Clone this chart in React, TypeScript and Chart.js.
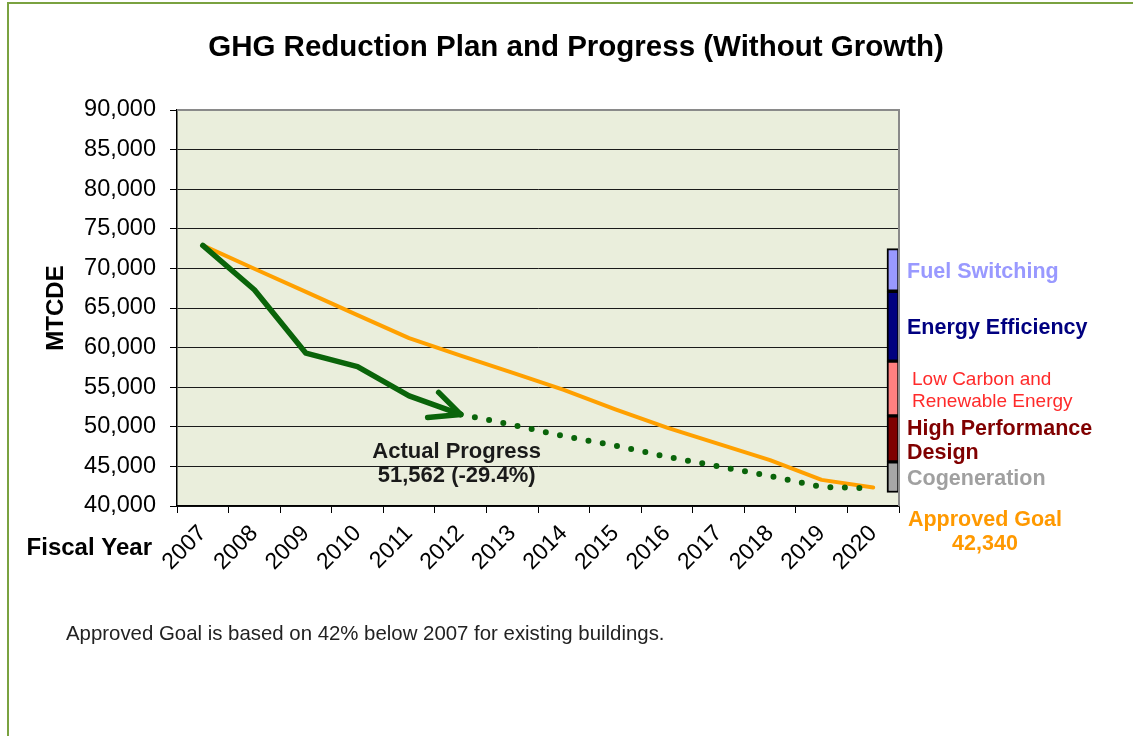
import React, { useEffect, useRef } from "react";
import { Chart, registerables } from "chart.js";

Chart.register(...registerables);

// ---------- data ----------
const years = ["2007", "2008", "2009", "2010", "2011", "2012", "2013", "2014", "2015", "2016", "2017", "2018", "2019", "2020"];
const planValues = [72900, 69950, 67030, 64100, 61200, 59000, 56850, 54650, 52200, 49900, 47850, 45800, 43300, 42340];
const actualValues = [72900, 67300, 59300, 57600, 53900, 51562, null, null, null, null, null, null, null, null];
const projectionValues = [null, null, null, null, null, 51562, 50260, 48820, 47620, 46220, 45000, 43780, 42390, 42250];

const yMin = 40000;
const yMax = 90000;
const yStep = 5000;

const strategyNames = ["Cogeneration", "High Performance Design", "Low Carbon and Renewable Energy", "Energy Efficiency", "Fuel Switching"];
const strategyLow = [41700, 45580, 51370, 58300, 67120];
const strategyHigh = [45580, 51370, 58300, 67120, 72500];
const strategyLabelLines = [["Cogeneration"], ["High Performance", "Design"], ["Low Carbon and", "Renewable Energy"], ["Energy Efficiency"], ["Fuel Switching"]];

const goalValue = 42340;
const actualLatest = 51562;
const actualChangePct = -29.4;

const chartTitle = "GHG Reduction Plan and Progress (Without Growth)";
const yTitle = "MTCDE";
const xTitle = "Fiscal Year";
const footnote = "Approved Goal is based on 42% below 2007 for existing buildings.";

// ---------- styles ----------
const FONT = "'Liberation Sans', Arial, sans-serif";
const strategyFill = ["#A6A6A6", "#7F0000", "#FF8080", "#000080", "#9999FF"];
const strategyText = ["#A0A0A0", "#800000", "#FF2A2A", "#000080", "#9999FF"];
const strategyBold = [true, true, false, true, true];
const GREEN = "#0A640A";
const ORANGE = "#FFA000";
const SLOT_COUNT = 60;
const barSlots = Array.from({ length: SLOT_COUNT }, (_, i) => "s" + i);

const fmt = (v: number) => v.toLocaleString("en-US");

export default function App() {
  const ref = useRef<HTMLCanvasElement | null>(null);

  useEffect(() => {
    document.body.style.margin = "0";
    document.body.style.overflow = "hidden";
    const canvas = ref.current;
    if (!canvas) return;

    const barDatasets = strategyNames.map((name, i) => ({
      type: "bar" as const,
      label: name,
      xAxisID: "x2",
      yAxisID: "y",
      data: barSlots.map((_, j) => (j === SLOT_COUNT - 1 ? [strategyLow[i], strategyHigh[i]] : null)),
      backgroundColor: strategyFill[i],
      borderColor: "#000",
      borderWidth: 2,
      borderSkipped: false,
      grouped: false,
      barPercentage: 1,
      categoryPercentage: 1,
      order: 5,
    }));

    const decorations = {
      id: "decorations",
      beforeDraw(chart: any) {
        const { ctx, chartArea: ca, width, height } = chart;
        ctx.save();
        ctx.fillStyle = "#fff";
        ctx.fillRect(0, 0, width, height);
        ctx.fillStyle = "#EAEEDC";
        ctx.fillRect(ca.left, ca.top, ca.right - ca.left, ca.bottom - ca.top);
        // outer frame (top and left edges)
        ctx.fillStyle = "#7AA240";
        ctx.fillRect(7, 2, width - 7, 2);
        ctx.fillRect(7, 2, 2, height - 2);
        ctx.restore();
      },
      afterDatasetsDraw(chart: any) {
        const { ctx, chartArea: ca } = chart;
        ctx.save();
        // plot frame (top/right in gray)
        ctx.strokeStyle = "#8A8A8A";
        ctx.lineWidth = 2;
        ctx.beginPath();
        ctx.moveTo(ca.left, ca.top);
        ctx.lineTo(ca.right, ca.top);
        ctx.lineTo(ca.right, ca.bottom);
        ctx.stroke();
        // arrowhead at last actual point
        const meta = chart.getDatasetMeta(1);
        const lastIdx = actualValues.filter((v) => v !== null).length - 1;
        const pt = meta.data[lastIdx];
        if (pt) {
          ctx.strokeStyle = GREEN;
          ctx.lineWidth = 5.5;
          ctx.lineCap = "round";
          ctx.lineJoin = "round";
          ctx.beginPath();
          ctx.moveTo(pt.x - 22, pt.y - 22);
          ctx.lineTo(pt.x, pt.y);
          ctx.lineTo(pt.x - 33, pt.y + 3);
          ctx.stroke();
        }
        ctx.restore();
      },
      afterDraw(chart: any) {
        const { ctx, chartArea: ca } = chart;
        const ys = chart.scales.y;
        const xs = chart.scales.x;
        ctx.save();
        ctx.textBaseline = "middle";
        // title
        ctx.fillStyle = "#000";
        ctx.font = `bold 29.5px ${FONT}`;
        ctx.textAlign = "center";
        ctx.fillText(chartTitle, 576, 48);
        // x title
        ctx.font = `bold 24px ${FONT}`;
        ctx.textAlign = "right";
        ctx.fillText(xTitle, ca.left - 25, ca.bottom + 42);
        // actual progress annotation
        const lastIdx = actualValues.filter((v) => v !== null).length - 1;
        const ax = xs.getPixelForValue(lastIdx) - 4;
        ctx.font = `bold 22px ${FONT}`;
        ctx.fillStyle = "#1a1a1a";
        ctx.textAlign = "center";
        ctx.fillText("Actual Progress", ax, ys.getPixelForValue(actualLatest) + 38);
        ctx.fillText(`${fmt(actualLatest)} (${actualChangePct}%)`, ax, ys.getPixelForValue(actualLatest) + 62);
        // strategy labels
        ctx.textAlign = "left";
        strategyNames.forEach((_, i) => {
          const mid = ys.getPixelForValue((strategyLow[i] + strategyHigh[i]) / 2);
          const lines = strategyLabelLines[i];
          const bold = strategyBold[i];
          const lh = bold ? 24 : 22;
          ctx.font = bold ? `bold 21.5px ${FONT}` : `19px ${FONT}`;
          ctx.fillStyle = strategyText[i];
          const x = ca.right + (bold ? 8 : 13);
          const y0 = mid + 2 - ((lines.length - 1) * lh) / 2;
          lines.forEach((ln, k) => ctx.fillText(ln, x, y0 + k * lh));
        });
        // approved goal
        ctx.font = `bold 21.5px ${FONT}`;
        ctx.fillStyle = "#FF9900";
        ctx.textAlign = "center";
        ctx.fillText("Approved Goal", ca.right + 86, ca.bottom + 14);
        ctx.fillText(fmt(goalValue), ca.right + 86, ca.bottom + 38);
        // footnote
        ctx.font = `20.4px ${FONT}`;
        ctx.fillStyle = "#222";
        ctx.textAlign = "left";
        ctx.fillText(footnote, 66, ca.bottom + 128);
        ctx.restore();
      },
    };

    const chart = new Chart(canvas, {
      type: "line",
      data: {
        labels: years,
        datasets: [
          {
            label: "Plan",
            data: planValues,
            borderColor: ORANGE,
            borderWidth: 4,
            pointRadius: 0,
            tension: 0,
            borderCapStyle: "round",
            borderJoinStyle: "round",
            order: 3,
          },
          {
            label: "Actual",
            data: actualValues,
            borderColor: GREEN,
            borderWidth: 5.5,
            pointRadius: 0,
            borderCapStyle: "round",
            borderJoinStyle: "round",
            order: 1,
          },
          {
            label: "Projection",
            data: projectionValues,
            borderColor: GREEN,
            borderWidth: 6,
            borderDash: [0, 14.5],
            borderCapStyle: "round",
            pointRadius: 0,
            order: 2,
          },
          ...barDatasets,
        ] as any,
      },
      options: {
        responsive: false,
        animation: false,
        devicePixelRatio: 1,
        font: { family: FONT },
        layout: { padding: { left: 38, right: 234, top: 110, bottom: 140 } },
        plugins: {
          legend: { display: false },
          title: { display: false },
          tooltip: { enabled: false },
        },
        scales: {
          x: {
            type: "category",
            offset: true,
            grid: { display: true, drawOnChartArea: false, drawTicks: true, tickLength: 7, offset: true, color: "#000" },
            border: { display: true, color: "#000", width: 1.5 },
            ticks: { autoSkip: false, maxRotation: 45, minRotation: 45, padding: 7, color: "#000", font: { family: FONT, size: 23 } },
            afterFit: (s: any) => { s.height = 90; },
          },
          x2: {
            type: "category",
            labels: barSlots,
            display: false,
            offset: true,
          },
          y: {
            type: "linear",
            min: yMin,
            max: yMax,
            ticks: { stepSize: yStep, padding: 14, color: "#000", font: { family: FONT, size: 23.5 }, callback: (v: any) => fmt(Number(v)) },
            grid: {
              color: (c: any) => (c.tick && c.tick.value === yMax ? "#8A8A8A" : "#1a1a1a"),
              lineWidth: 1,
              tickLength: 7,
              tickColor: "#000",
            },
            border: { display: true, color: "#000", width: 1.5 },
            title: { display: true, text: yTitle, color: "#000", font: { family: FONT, size: 24, weight: "bold" }, padding: { top: 4, bottom: 0 } },
            afterFit: (s: any) => { s.width = 139; },
          },
        },
      } as any,
      plugins: [decorations],
    });

    return () => chart.destroy();
  }, []);

  return (
    <div style={{ position: "relative", width: 1133, height: 736 }}>
      <canvas ref={ref} width={1133} height={736} />
    </div>
  );
}
